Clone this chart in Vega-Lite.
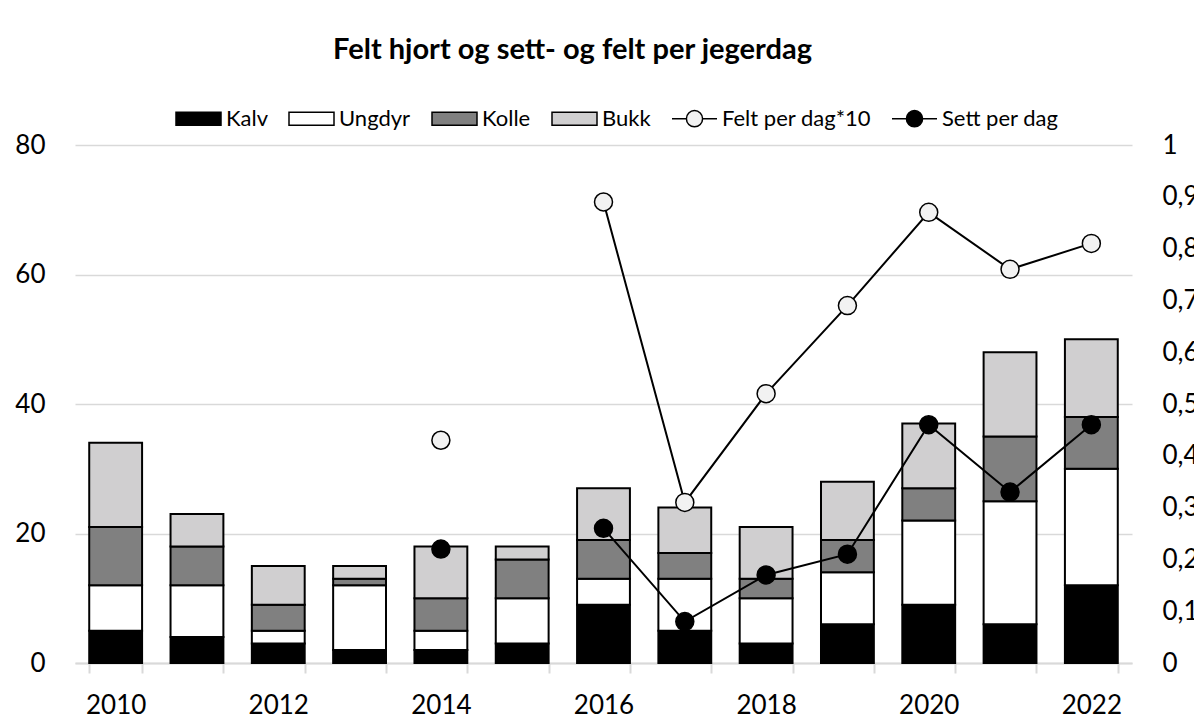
{
  "$schema": "https://vega.github.io/schema/vega-lite/v6.json",
  "width": 1057,
  "height": 518,
  "autosize": {"type": "none"},
  "padding": {"left": 75, "top": 145, "right": 62, "bottom": 61},
  "background": "white",
  "title": {
    "text": "Felt hjort og sett- og felt per jegerdag",
    "font": "Lato",
    "fontSize": 29,
    "fontWeight": "bold",
    "color": "#000",
    "anchor": "middle",
    "offset": 30,
    "dx": -31
  },
  "config": {"view": {"stroke": null}, "font": "Lato"},
  "layer": [
    {
      "data": {
        "values": [
          {"year": 2010, "series": "Kalv", "value": 5}, {"year": 2010, "series": "Ungdyr", "value": 7}, {"year": 2010, "series": "Kolle", "value": 9}, {"year": 2010, "series": "Bukk", "value": 13},
          {"year": 2011, "series": "Kalv", "value": 4}, {"year": 2011, "series": "Ungdyr", "value": 8}, {"year": 2011, "series": "Kolle", "value": 6}, {"year": 2011, "series": "Bukk", "value": 5},
          {"year": 2012, "series": "Kalv", "value": 3}, {"year": 2012, "series": "Ungdyr", "value": 2}, {"year": 2012, "series": "Kolle", "value": 4}, {"year": 2012, "series": "Bukk", "value": 6},
          {"year": 2013, "series": "Kalv", "value": 2}, {"year": 2013, "series": "Ungdyr", "value": 10}, {"year": 2013, "series": "Kolle", "value": 1}, {"year": 2013, "series": "Bukk", "value": 2},
          {"year": 2014, "series": "Kalv", "value": 2}, {"year": 2014, "series": "Ungdyr", "value": 3}, {"year": 2014, "series": "Kolle", "value": 5}, {"year": 2014, "series": "Bukk", "value": 8},
          {"year": 2015, "series": "Kalv", "value": 3}, {"year": 2015, "series": "Ungdyr", "value": 7}, {"year": 2015, "series": "Kolle", "value": 6}, {"year": 2015, "series": "Bukk", "value": 2},
          {"year": 2016, "series": "Kalv", "value": 9}, {"year": 2016, "series": "Ungdyr", "value": 4}, {"year": 2016, "series": "Kolle", "value": 6}, {"year": 2016, "series": "Bukk", "value": 8},
          {"year": 2017, "series": "Kalv", "value": 5}, {"year": 2017, "series": "Ungdyr", "value": 8}, {"year": 2017, "series": "Kolle", "value": 4}, {"year": 2017, "series": "Bukk", "value": 7},
          {"year": 2018, "series": "Kalv", "value": 3}, {"year": 2018, "series": "Ungdyr", "value": 7}, {"year": 2018, "series": "Kolle", "value": 3}, {"year": 2018, "series": "Bukk", "value": 8},
          {"year": 2019, "series": "Kalv", "value": 6}, {"year": 2019, "series": "Ungdyr", "value": 8}, {"year": 2019, "series": "Kolle", "value": 5}, {"year": 2019, "series": "Bukk", "value": 9},
          {"year": 2020, "series": "Kalv", "value": 9}, {"year": 2020, "series": "Ungdyr", "value": 13}, {"year": 2020, "series": "Kolle", "value": 5}, {"year": 2020, "series": "Bukk", "value": 10},
          {"year": 2021, "series": "Kalv", "value": 6}, {"year": 2021, "series": "Ungdyr", "value": 19}, {"year": 2021, "series": "Kolle", "value": 10}, {"year": 2021, "series": "Bukk", "value": 13},
          {"year": 2022, "series": "Kalv", "value": 12}, {"year": 2022, "series": "Ungdyr", "value": 18}, {"year": 2022, "series": "Kolle", "value": 8}, {"year": 2022, "series": "Bukk", "value": 12}
        ]
      },
      "transform": [
        {"calculate": "indexof(['Kalv','Ungdyr','Kolle','Bukk'], datum.series)", "as": "k"}
      ],
      "mark": {"type": "bar", "stroke": "#000", "strokeWidth": 2},
      "encoding": {
        "x": {
          "field": "year",
          "type": "ordinal",
          "scale": {"paddingInner": 0.35, "paddingOuter": 0.175},
          "axis": {
            "title": null,
            "labelExpr": "datum.value % 2 == 0 ? datum.label : ''",
            "labelAngle": 0,
            "labelFont": "Lato",
            "labelFontSize": 26,
            "labelColor": "#000",
            "labelPadding": 19,
            "tickBand": "extent",
            "tickColor": "#d9d9d9",
            "tickWidth": 2,
            "tickSize": 10,
            "domainColor": "#d9d9d9",
            "domainWidth": 2,
            "grid": false
          }
        },
        "y": {
          "field": "value",
          "type": "quantitative",
          "stack": "zero",
          "scale": {"domain": [0, 80]},
          "axis": {
            "title": null,
            "values": [0, 20, 40, 60, 80],
            "labelFont": "Lato",
            "labelFontSize": 26,
            "labelColor": "#000",
            "labelPadding": 30,
            "domain": false,
            "ticks": false,
            "gridColor": "#d9d9d9",
            "gridWidth": 1.5
          }
        },
        "fill": {
          "field": "series",
          "type": "nominal",
          "scale": {
            "domain": ["Kalv", "Ungdyr", "Kolle", "Bukk", "Felt per dag*10", "Sett per dag"],
            "range": ["#000000", "#ffffff", "#808080", "#d0cfd0", "#f2f2f2", "#000000"]
          },
          "legend": {
            "orient": "none",
            "direction": "horizontal",
            "legendX": 100,
            "legendY": -50,
            "title": null,
            "labelFont": "Lato",
            "labelFontSize": 22,
            "labelColor": "#000",
            "labelLimit": 400,
            "symbolSize": 2025,
            "symbolStrokeColor": "#000",
            "symbolStrokeWidth": 1.5,
            "symbolOpacity": 1,
            "columnPadding": 18,
            "labelOffset": 4,
            "padding": 0,
            "encode": {
              "symbols": {
                "update": {
                  "shape": {"signal": "indexof(['Kalv','Ungdyr','Kolle','Bukk'], datum.value) >= 0 ? 'M-1,-0.29H1V0.29H-1Z' : 'M-1,0H-0.36M0.36,0H1M0.36,0A0.36,0.36,0,1,1,-0.36,0A0.36,0.36,0,1,1,0.36,0Z'"}
                }
              }
            }
          }
        },
        "order": {"field": "k", "type": "quantitative"}
      }
    },
    {
      "data": {
        "values": [
          {"year": 2014, "series": "Felt per dag*10", "rate": 0.43},
          {"year": 2015, "series": "Felt per dag*10", "rate": null},
          {"year": 2016, "series": "Felt per dag*10", "rate": 0.89},
          {"year": 2017, "series": "Felt per dag*10", "rate": 0.31},
          {"year": 2018, "series": "Felt per dag*10", "rate": 0.52},
          {"year": 2019, "series": "Felt per dag*10", "rate": 0.69},
          {"year": 2020, "series": "Felt per dag*10", "rate": 0.87},
          {"year": 2021, "series": "Felt per dag*10", "rate": 0.76},
          {"year": 2022, "series": "Felt per dag*10", "rate": 0.81},
          {"year": 2014, "series": "Sett per dag", "rate": 0.22},
          {"year": 2015, "series": "Sett per dag", "rate": null},
          {"year": 2016, "series": "Sett per dag", "rate": 0.26},
          {"year": 2017, "series": "Sett per dag", "rate": 0.08},
          {"year": 2018, "series": "Sett per dag", "rate": 0.17},
          {"year": 2019, "series": "Sett per dag", "rate": 0.21},
          {"year": 2020, "series": "Sett per dag", "rate": 0.46},
          {"year": 2021, "series": "Sett per dag", "rate": 0.33},
          {"year": 2022, "series": "Sett per dag", "rate": 0.46}
        ]
      },
      "layer": [
        {
          "mark": {"type": "line", "color": "#000", "strokeWidth": 2, "invalid": "break-paths-filter-domains"},
          "encoding": {
            "x": {"field": "year", "type": "ordinal"},
            "y": {
              "field": "rate",
              "type": "quantitative",
              "scale": {"domain": [0, 1]},
              "axis": {
                "orient": "right",
                "title": null,
                "values": [0, 0.1, 0.2, 0.3, 0.4, 0.5, 0.6, 0.7, 0.8, 0.9, 1],
                "labelExpr": "replace(format(datum.value, '~g'), '.', ',')",
                "labelFont": "Lato",
                "labelFontSize": 26,
                "labelColor": "#000",
                "labelPadding": 30,
                "domain": false,
                "ticks": false,
                "grid": false
              }
            },
            "detail": {"field": "series"}
          }
        },
        {
          "mark": {"type": "point", "shape": "circle", "filled": true, "size": 324, "stroke": "#000", "strokeWidth": 1.5, "opacity": 1},
          "encoding": {
            "x": {"field": "year", "type": "ordinal"},
            "y": {"field": "rate", "type": "quantitative"},
            "fill": {"field": "series", "type": "nominal"}
          }
        }
      ]
    }
  ],
  "resolve": {"scale": {"y": "independent"}}
}
